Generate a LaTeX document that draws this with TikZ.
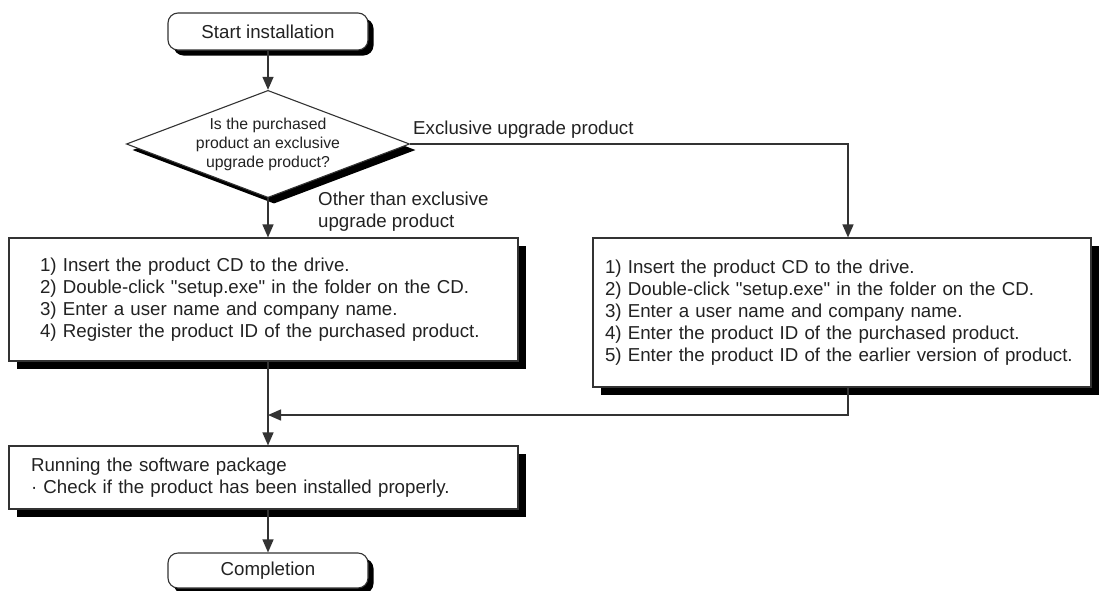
\documentclass[tikz,border=0pt]{standalone}
\usepackage{fontspec}
\setmainfont{Liberation Sans}
\usetikzlibrary{shapes.geometric,shadows,arrows.meta}
\definecolor{ink}{HTML}{222222}
\definecolor{edge}{HTML}{333333}
\begin{document}
\begin{tikzpicture}[x=1pt,y=-1pt,
		every node/.style={text=ink,font=\fontsize{18.7}{22}\selectfont},
		solidshadow/.style={drop shadow={shadow xshift=#1,shadow yshift=-#1,opacity=1,fill=black}},
		term/.style={draw=edge,line width=1.1pt,fill=white,rounded corners=10pt,minimum width=200pt,minimum height=37pt,inner sep=0pt,solidshadow=5.5pt},
		query/.style={draw=edge,line width=1.1pt,fill=white,diamond,aspect=2.64,inner sep=0pt,align=center,font=\fontsize{15.8}{19}\selectfont,solidshadow=6pt},
		stepbox/.style={draw=edge,line width=1.1pt,fill=white,align=left,inner ysep=0pt,solidshadow=8pt},
		flow/.style={draw=edge,line width=1.4pt,-{Triangle[length=13pt,width=11pt]}},
		tag/.style={inner sep=0pt,align=left}]
		\useasboundingbox (0,0) rectangle (1100,590);
		\node[term] (start) at (268,31.5) {Start installation};
		\node[query] (ask) at (268,144) {Is the purchased\\product an exclusive\\upgrade product?};
		\node[stepbox,text width=447pt,inner xsep=31pt,minimum height=123pt] (plain) at (263.5,299.5) {1) Insert the product CD to the drive.\\2) Double-click \textquotedbl setup.exe\textquotedbl{} in the folder on the CD.\\3) Enter a user name and company name.\\4) Register the product ID of the purchased product.};
		\node[stepbox,text width=474pt,inner xsep=12pt,minimum height=149pt] (upgr) at (842,312.5) {1) Insert the product CD to the drive.\\2) Double-click \textquotedbl setup.exe\textquotedbl{} in the folder on the CD.\\3) Enter a user name and company name.\\4) Enter the product ID of the purchased product.\\5) Enter the product ID of the earlier version of product.};
		\node[stepbox,text width=465pt,inner xsep=22pt,minimum height=63pt] (check) at (263.5,477.5) {Running the software package\\· Check if the product has been installed properly.};
		\node[term,minimum height=35pt] (done) at (268,570.5) {Completion};
		\coordinate (join) at (268,415);
		\node[tag,anchor=west] (yes) at (413,130) {Exclusive upgrade product};
		\node[tag,anchor=west] (no) at (318,211.5) {Other than exclusive\\upgrade product};
		\draw[flow] (start) -- (ask);
		\draw[flow] (ask.south) -- (ask.south |- plain.north);
		\draw[flow] (ask.east) -| ([xshift=6pt]upgr.north);
		\draw[flow] ([xshift=6pt]upgr.south) |- (join);
		\draw[flow] (plain.south -| join) -- (check.north -| join);
		\draw[flow] (check.south -| join) -- (done);
	\end{tikzpicture}
\end{document}
